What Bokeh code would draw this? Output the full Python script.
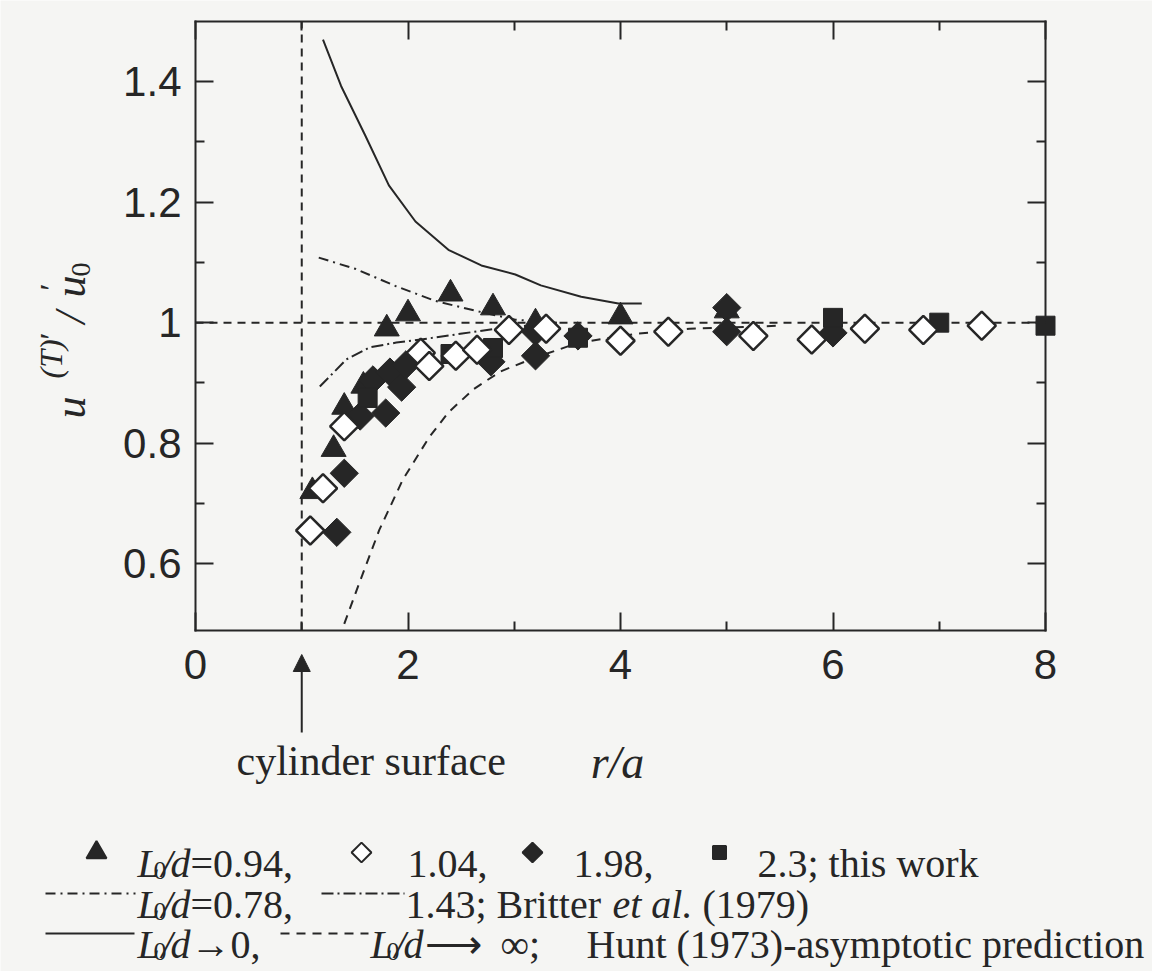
import math
from bokeh.plotting import figure
from bokeh.models import Range1d, FixedTicker, LinearAxis, Arrow, NormalHead
from bokeh.core.properties import value
from bokeh.embed import file_html
from bokeh.resources import INLINE

# ---------------- data ----------------
x_ticks = [0, 2, 4, 6, 8]
x_minor = [1, 3, 5, 7]
y_ticks = [0.6, 0.8, 1.0, 1.2, 1.4]
y_minor = [0.7, 0.9, 1.1, 1.3]
y_tick_labels = ["0.6", "0.8", "1", "1.2", "1.4"]

cyl_surface_x = 1.0   # r/a = 1 (cylinder surface)
unity_y = 1.0         # u'/u0' = 1

# this work
tri_x = [1.10, 1.30, 1.40, 1.58, 1.80, 2.00, 2.40, 2.80, 3.20, 4.00, 5.00]          # L0/d = 0.94
tri_y = [0.720, 0.790, 0.860, 0.895, 0.990, 1.015, 1.048, 1.025, 1.000, 1.010, 1.020]
od_x = [1.08, 1.20, 1.40, 2.12, 2.20, 2.45, 2.65, 2.95, 3.30, 4.00, 4.45, 5.25, 5.80, 6.30, 6.85, 7.40]  # 1.04
od_y = [0.655, 0.725, 0.828, 0.950, 0.928, 0.945, 0.955, 0.988, 0.990, 0.970, 0.985, 0.978, 0.972, 0.990, 0.988, 0.995]
fd_x = [1.33, 1.40, 1.55, 1.67, 1.79, 1.83, 1.94, 1.98, 2.78, 3.20, 3.20, 3.60, 5.00, 5.00, 6.00]  # 1.98
fd_y = [0.652, 0.750, 0.845, 0.905, 0.850, 0.918, 0.893, 0.930, 0.935, 0.985, 0.945, 0.978, 1.025, 0.985, 0.983]
sq_x = [1.62, 2.40, 2.80, 3.60, 6.00, 7.00, 8.00]   # 2.3
sq_y = [0.875, 0.948, 0.958, 0.975, 1.008, 1.000, 0.995]

# Britter et al. (1979)
b078_x = [1.16, 1.51, 1.88, 2.26, 2.63, 3.01, 3.40]
b078_y = [1.108, 1.089, 1.061, 1.036, 1.020, 1.005, 1.000]
b143_x = [1.17, 1.42, 1.64, 1.89, 2.20, 2.51, 2.83, 3.40]
b143_y = [0.894, 0.939, 0.959, 0.967, 0.974, 0.982, 0.990, 1.000]

# Hunt (1973)
h0_x = [1.20, 1.37, 1.60, 1.82, 2.07, 2.38, 2.69, 3.01, 3.25, 3.63, 3.98, 4.20]
h0_y = [1.470, 1.393, 1.310, 1.228, 1.168, 1.121, 1.095, 1.080, 1.062, 1.043, 1.032, 1.032]
hinf_x = [1.40, 1.54, 1.73, 1.95, 2.20, 2.38, 2.62, 2.87, 3.18, 3.61, 4.17, 4.65, 5.50]
hinf_y = [0.500, 0.567, 0.656, 0.739, 0.810, 0.851, 0.890, 0.919, 0.941, 0.967, 0.982, 0.990, 0.995]

# ---------------- geometry ----------------
W, H = 1152, 971
FL, FR, FT, FB = 195, 1045, 21, 630      # plotting box inside the canvas (px)
X0, X1 = 0.0, 8.0
Y0, Y1 = 0.489, 1.5
PPX = (FR - FL) / (X1 - X0)
PPY = (FB - FT) / (Y1 - Y0)
XA, XB = X0 - FL / PPX, X1 + (W - FR) / PPX
YA, YB = Y0 - (H - FB) / PPY, Y1 + FT / PPY

INK = "#262626"
BG = "#f5f5f3"
SERIF = "Liberation Serif"
SANS = "Liberation Sans"


def cx2d(cx):
    return XA + cx / PPX


def cy2d(cy):
    return YB - cy / PPY


p = figure(width=W, height=H, x_range=Range1d(XA, XB), y_range=Range1d(YA, YB),
           x_axis_type=None, y_axis_type=None, min_border=0,
           output_backend="svg", toolbar_location=None,
           background_fill_color=BG, border_fill_color=BG, outline_line_color=None)


def make_axis(place, loc, bounds, ticks, minor, labels=None, standoff=14):
    ax = LinearAxis(fixed_location=loc, bounds=bounds,
                    ticker=FixedTicker(ticks=ticks, minor_ticks=minor))
    ax.axis_line_color = INK
    ax.axis_line_width = 2
    ax.axis_line_cap = "square"
    ax.major_tick_in = 18
    ax.major_tick_out = 0
    ax.minor_tick_in = 9
    ax.minor_tick_out = 0
    ax.major_tick_line_color = INK
    ax.major_tick_line_width = 2
    ax.minor_tick_line_color = INK
    ax.minor_tick_line_width = 2
    ax.major_label_text_font = SANS
    ax.major_label_text_font_size = "42px"
    ax.major_label_text_color = INK
    ax.major_label_standoff = standoff
    if labels is None:
        ax.major_label_overrides = {t: "" for t in ticks}
    else:
        ax.major_label_overrides = dict(zip(ticks, labels))
    p.add_layout(ax, place)
    return ax


make_axis("below", Y0, (X0, X1), x_ticks, x_minor, [str(t) for t in x_ticks], standoff=19)
make_axis("left", X0, (Y0, Y1), y_ticks, y_minor, y_tick_labels, standoff=14)
make_axis("above", Y1, (X0, X1), x_ticks, x_minor)
make_axis("right", X1, (Y0, Y1), y_ticks, y_minor)

# reference lines: cylinder surface and unity
p.line([cyl_surface_x, cyl_surface_x], [Y0, Y1], line_color=INK, line_width=2, line_dash="8 6")
p.line([X0, X1], [unity_y, unity_y], line_color=INK, line_width=2, line_dash="8 6")

# theory curves
p.line(h0_x, h0_y, line_color=INK, line_width=2)
p.line(hinf_x, hinf_y, line_color=INK, line_width=2, line_dash="9 7")
p.line(b078_x, b078_y, line_color=INK, line_width=2, line_dash="10 5 2 5")
p.line(b143_x, b143_y, line_color=INK, line_width=2, line_dash="12 4 2 4")

# measurements
p.scatter(tri_x, tri_y, marker="triangle", size=25, fill_color=INK, line_color=INK)
p.scatter(fd_x, fd_y, marker="square", angle=math.pi / 4, size=20, fill_color=INK, line_color=INK)
p.scatter(sq_x, sq_y, marker="square", size=19, fill_color=INK, line_color=INK)
p.scatter(od_x, od_y, marker="square", angle=math.pi / 4, size=20, fill_color="white",
          line_color=INK, line_width=2.5)


# ---------------- texts ----------------
def txt(cx, cy, s, size=40, style="normal", font=SERIF, angle=0.0, align="left"):
    p.text(x=[cx2d(cx)], y=[cy2d(cy)], text=[s], text_font=value(font),
           text_font_size=f"{size}px", text_font_style=style, text_color=INK,
           text_baseline="alphabetic", text_align=align, angle=angle)


txt(236, 760, "cylinder surface", 42)
txt(617, 762, "r/a", 46, "italic", align="center")

# y-axis label  u^(T)' / u'_0  (rotated)
R = math.pi / 2
txt(70, 418, "u", 44, "italic", angle=R)
txt(50, 378, "(T)", 32, "italic", angle=R)
txt(50, 339, "\u2032", 32, angle=R)
txt(70, 323, "/", 44, "italic", angle=R)
txt(70, 297, "u", 44, "italic", angle=R)
txt(50, 290, "\u2032", 32, angle=R)
txt(80, 276, "0", 28, angle=R)

# arrow pointing at the cylinder surface
p.add_layout(Arrow(x_start=cyl_surface_x, y_start=cy2d(732), x_end=cyl_surface_x, y_end=cy2d(654),
                   line_color=INK, line_width=2,
                   end=NormalHead(size=17, fill_color=INK, line_color=INK)))


# ---------------- caption legend ----------------
def l0d(x, y):
    txt(x, y, "L", 40, "italic")
    txt(x + 16, y + 7, "0", 26)
    txt(x + 24, y, "/", 40, "italic")
    txt(x + 33, y, "d", 40, "italic")


def sample(x1, x2, y, dash="solid"):
    p.line([cx2d(x1), cx2d(x2)], [cy2d(y), cy2d(y)], line_color=INK, line_width=2, line_dash=dash)


def mark(cx, cy, marker, size, fill, angle=0.0):
    p.scatter([cx2d(cx)], [cy2d(cy)], marker=marker, size=size, angle=angle,
              fill_color=fill, line_color=INK, line_width=2)


L1, L2, L3 = 863, 904, 944
# line 1
mark(96, L1 - 11, "triangle", 20, INK)
l0d(137, L1)
txt(190, L1, "=0.94,")
mark(361, L1 - 11, "square", 14, "white", math.pi / 4)
txt(407, L1, "1.04,")
mark(532, L1 - 11, "square", 14, INK, math.pi / 4)
txt(573, L1, "1.98,")
mark(719, L1 - 11, "square", 13, INK)
txt(757, L1, "2.3; this work")
# line 2
sample(45, 135, L2 - 11, "10 5 2 5")
l0d(137, L2)
txt(190, L2, "=0.78,")
sample(321, 404, L2 - 11, "12 4 2 4")
txt(405, L2, "1.43; Britter")
txt(612, L2, "et al.", 40, "italic")
txt(702, L2, "(1979)")
# line 3
sample(45, 134, L3 - 11)
l0d(137, L3)
txt(190, L3, "\u21920,")
sample(280, 368, L3 - 11, "9 7")
l0d(370, L3)
txt(424, L3, "\u27f6")
txt(500, L3, "\u221e;")
txt(586, L3, "Hunt (1973)-asymptotic prediction")

open("out.html", "w").write(file_html(p, INLINE))
